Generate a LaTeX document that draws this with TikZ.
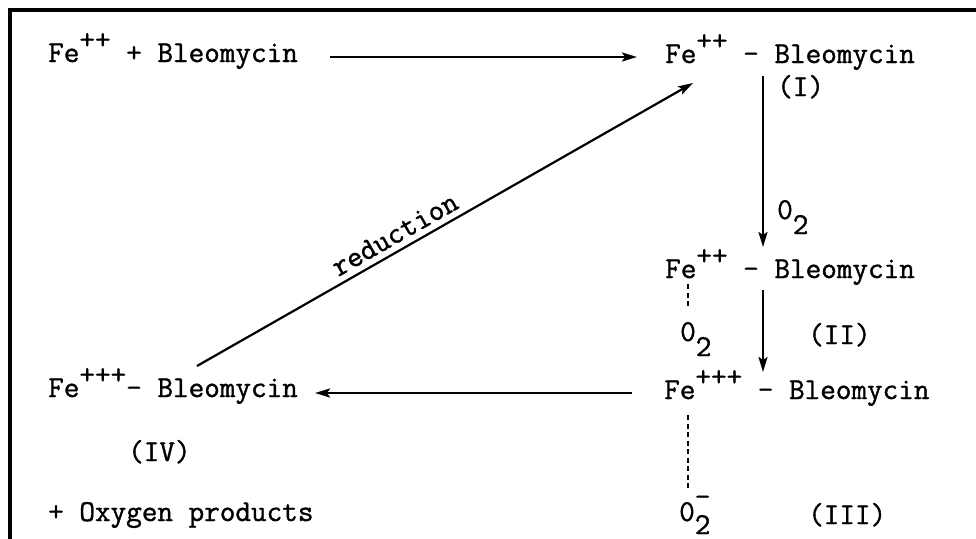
\documentclass[tikz,border=0pt]{standalone}
\usepackage{fontspec}
\setmonofont[FakeBold=1.2]{Latin Modern Mono}
\usetikzlibrary{arrows.meta}
\newcommand\upsc[1]{\raisebox{13pt}{#1}}
\newcommand\dnsc[1]{\raisebox{-15pt}{#1}}
\begin{document}
\begin{tikzpicture}[x=1pt,y=-1pt,
  txt/.style={inner sep=0pt, anchor=base west, font=\fontsize{30.3}{36}\selectfont\ttfamily},
  arr/.style={line width=2.2pt, -{Stealth[length=15pt,width=9pt,inset=3pt]}},
  dotl/.style={line width=2.6pt, dash pattern=on 5pt off 3.5pt},
  frame/.style={line width=3.2pt}]
\useasboundingbox (0,0) rectangle (976,538);
\draw[frame] (976,10) -- (10,10) -- (10,540);
% texts
\node[txt] (t1) at (48,62) {Fe\upsc{++}~+~Bleomycin};
\node[txt] (t2) at (665,63) {Fe\upsc{++}~-~Bleomycin};
\node[txt] (lI) at (777,96) {(I)};
\node[txt] (o2a) at (777,219) {0\dnsc{2}};
\node[txt] (t3) at (665,278) {Fe\upsc{++}~-~Bleomycin};
\node[txt] (o2b) at (680,341) {0\dnsc{2}};
\node[txt] (lII) at (808,344) {(II)};
\node[txt] (t4) at (664,399) {Fe\upsc{+++}~-~Bleomycin};
\node[txt] (o2c) at (679,521) {0\rlap{\raisebox{15pt}{-}}\raisebox{-13pt}{2}};
\node[txt] (lIII) at (808,524) {(III)};
\node[txt] (t5) at (48,397) {Fe\upsc{+++}-~Bleomycin};
\node[txt] (lIV) at (128,461) {(IV)};
\node[txt] (t6) at (48,521) {+~Oxygen products};
% connector ends
\coordinate (a1s) at (330,57);
\coordinate (a1e) at (637,57);
\coordinate (a2s) at (763,76);
\coordinate (a2e) at (763,247);
\coordinate (a3s) at (763,290);
\coordinate (a3e) at (763,372);
\coordinate (a4s) at (632,393);
\coordinate (a4e) at (315,393);
\coordinate (a5s) at (197,366);
\coordinate (a5e) at (693,83);
\coordinate (d1s) at (688,284);
\coordinate (d1e) at (688,309);
\coordinate (d2s) at (688,415);
\coordinate (d2e) at (688,490);
% connectors
\draw[arr] (a1s) -- (a1e);
\draw[arr] (a2s) -- (a2e);
\draw[arr] (a3s) -- (a3e);
\draw[arr] (a4s) -- (a4e);
\draw[arr] (a5s) -- node[txt, anchor=south, sloped, pos=0.415, yshift=6pt] {reduction} (a5e);
\draw[dotl] (d1s) -- (d1e);
\draw[dotl] (d2s) -- (d2e);
\end{tikzpicture}
\end{document}
